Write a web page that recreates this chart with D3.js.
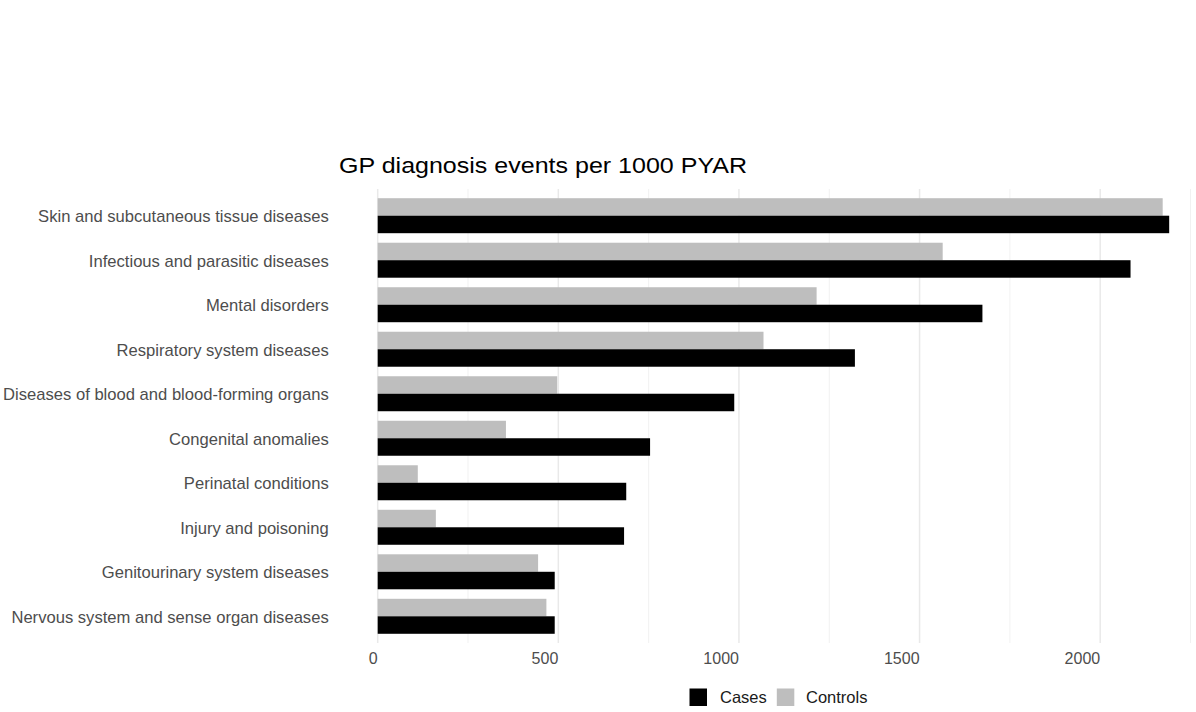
<!DOCTYPE html>
<html>
<head>
<meta charset="utf-8">
<script src="https://cdn.jsdelivr.net/npm/d3@7"></script>
<style>
  body { margin: 0; background: #fff; }
  svg text { font-family: "Liberation Sans", Arial, sans-serif; }
</style>
</head>
<body>
<svg id="chart" width="1196" height="712"></svg>
<script>
// data (events per 1000 PYAR)
var categories = [
    "Skin and subcutaneous tissue diseases",
    "Infectious and parasitic diseases",
    "Mental disorders",
    "Respiratory system diseases",
    "Diseases of blood and blood-forming organs",
    "Congenital anomalies",
    "Perinatal conditions",
    "Injury and poisoning",
    "Genitourinary system diseases",
    "Nervous system and sense organ diseases"
];
var cases    = [2191, 2084, 1674, 1321, 987, 754, 688, 682, 490, 490];
var controls = [2173, 1564, 1215, 1068, 497, 355, 111, 161, 444, 467];
var groups = ["Controls", "Cases"];
var groupColors = { Cases: "#000000", Controls: "#bebebe" };
var majorTicks = [0, 500, 1000, 1500, 2000];
var minorTicks = [250, 750, 1250, 1750, 2250];
var title = "GP diagnosis events per 1000 PYAR";

var svg = d3.select("#chart");
var panel = { left: 377.7, right: 1196, top: 189, bottom: 643 };

var x = d3.scaleLinear()
    .domain([0, 2250])
    .range([panel.left, 1190.5]);

var y = d3.scaleBand()
    .domain(categories)
    .range([panel.top, panel.bottom])
    .paddingInner(0)
    .paddingOuter(0.1);

var bw = y.bandwidth();
var sub = d3.scaleBand()
    .domain(groups)
    .range([bw * 0.107, bw * 0.893]);

// grid lines (vertical only)
svg.append("g").attr("class", "grid-minor")
  .selectAll("line")
    .data(minorTicks)
  .enter().append("line")
    .attr("x1", function(d) { return x(d) }).attr("x2", function(d) { return x(d) })
    .attr("y1", panel.top).attr("y2", panel.bottom)
    .attr("stroke", "#ededed").attr("stroke-width", 0.8);

svg.append("g").attr("class", "grid-major")
  .selectAll("line")
    .data(majorTicks)
  .enter().append("line")
    .attr("x1", function(d) { return x(d) }).attr("x2", function(d) { return x(d) })
    .attr("y1", panel.top).attr("y2", panel.bottom)
    .attr("stroke", "#e9e9e9").attr("stroke-width", 1.5);

// bars
var rows = categories.map(function(c, i) {
    return { cat: c, values: [
        { group: "Controls", value: controls[i] },
        { group: "Cases", value: cases[i] }
    ]};
});

var rowG = svg.selectAll("g.row")
    .data(rows)
  .enter().append("g")
    .attr("class", "row")
    .attr("transform", function(d) { return "translate(0," + y(d.cat) + ")" });

rowG.selectAll("rect")
    .data(function(d) { return d.values })
  .enter().append("rect")
    .attr("x", x(0))
    .attr("y", function(d) { return sub(d.group) })
    .attr("width", function(d) { return x(d.value) - x(0) })
    .attr("height", sub.bandwidth())
    .attr("fill", function(d) { return groupColors[d.group] });

// x axis
var xAxis = svg.append("g")
    .attr("transform", "translate(0," + panel.bottom + ")")
    .call(d3.axisBottom(x).tickValues(majorTicks).tickFormat(d3.format("d"))
        .tickSize(0).tickPadding(10));
xAxis.select(".domain").remove();
xAxis.selectAll("text")
    .attr("text-anchor", "end")
    .attr("dx", "-0.5")
    .attr("fill", "#4d4d4d")
    .style("font-size", "16px");

// y axis
var yAxis = svg.append("g")
    .attr("transform", "translate(" + panel.left + ",0)")
    .call(d3.axisLeft(y).tickSize(0).tickPadding(49));
yAxis.select(".domain").remove();
yAxis.selectAll("text")
    .attr("dy", "0.4em")
    .attr("fill", "#4d4d4d")
    .style("font-size", "16.6px");

// title (reference glyphs run wider than Liberation Sans)
svg.append("text")
    .attr("x", 339)
    .attr("y", 172.5)
    .attr("fill", "#000")
    .attr("textLength", 408)
    .attr("lengthAdjust", "spacingAndGlyphs")
    .style("font-size", "22.5px")
    .text(title);

// legend
var legendItems = [
    { label: "Cases", x: 689.5, tx: 720 },
    { label: "Controls", x: 776.8, tx: 806 }
];
var legend = svg.append("g").attr("class", "legend");
legend.selectAll("rect")
    .data(legendItems)
  .enter().append("rect")
    .attr("x", function(d) { return d.x })
    .attr("y", 688.5)
    .attr("width", 17.5)
    .attr("height", 17.5)
    .attr("fill", function(d) { return groupColors[d.label] });
legend.selectAll("text")
    .data(legendItems)
  .enter().append("text")
    .attr("x", function(d) { return d.tx })
    .attr("y", 703)
    .attr("fill", "#1a1a1a")
    .style("font-size", "16.5px")
    .text(function(d) { return d.label });
</script>
</body>
</html>
